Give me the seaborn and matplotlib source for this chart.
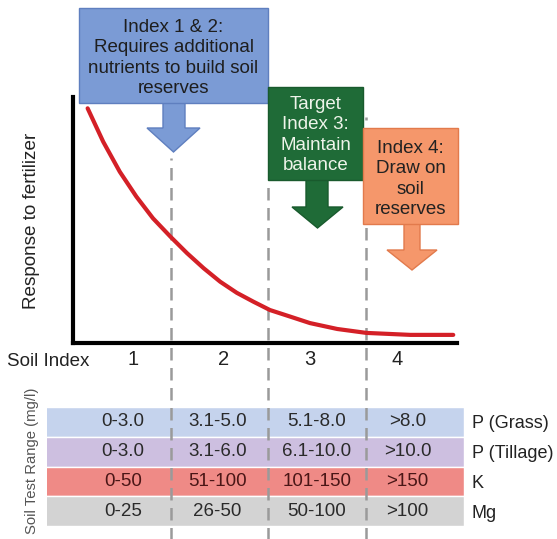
import pandas as pd
import matplotlib.pyplot as plt
import seaborn as sns
from matplotlib.patches import Rectangle, Polygon

sns.set_style('white')
plt.rcParams['font.family'] = ['Liberation Sans', 'DejaVu Sans']

# response curve (x in soil index units, y relative response)
curve_x = [0.65, 0.81, 0.98, 1.15, 1.32, 1.50, 1.67, 1.84, 2.01, 2.18, 2.35,
           2.52, 2.73, 2.93, 3.21, 3.51, 3.96, 4.40]
curve_y = [0.954, 0.818, 0.696, 0.595, 0.507, 0.432, 0.365, 0.304, 0.249, 0.204, 0.168,
           0.134, 0.107, 0.081, 0.057, 0.041, 0.033, 0.033]

index_labels = ['1', '2', '3', '4']
index_pos = [1.12, 2.04, 2.93, 3.82]
boundaries = [1.5, 2.5, 3.5]

nutrients = ['P (Grass)', 'P (Tillage)', 'K', 'Mg']
range_1 = ['0-3.0', '0-3.0', '0-50', '0-25']
range_2 = ['3.1-5.0', '3.1-6.0', '51-100', '26-50']
range_3 = ['5.1-8.0', '6.1-10.0', '101-150', '50-100']
range_4 = ['>8.0', '>10.0', '>150', '>100']
cell_pos = [1.01, 1.98, 3.00, 3.93]

row_colors = ['#c5d3ed', '#cdbfe0', '#ef8a86', '#d3d3d3']
row_text = ['#2a2a2a', '#2a2a2a', '#4a1616', '#2a2a2a']

W, H = 557, 539
X0, UNIT = 73, 97.5   # pixel of index 0.5 and pixels per index step


def rect(l, t, r, b):
    return [l / W, 1 - b / H, (r - l) / W, (b - t) / H]


def idx(px):
    return 0.5 + (px - X0) / UNIT


fig = plt.figure(figsize=(W / 100, H / 100), dpi=100)

# soil test table
tab = pd.DataFrame({'nutrient': nutrients, 'span': [idx(464)] * 4})
tab_ax = fig.add_axes(rect(47, 407, 464, 526), zorder=1)
sns.barplot(data=tab, x='span', y='nutrient', hue='nutrient', palette=row_colors,
            orient='h', width=1.0, saturation=1, legend=False, ax=tab_ax)
tab_ax.set_xlim(idx(47), idx(464))
tab_ax.set_ylim(3.5, -0.5)
tab_ax.set_xlabel('')
tab_ax.set_ylabel('')
tab_ax.set_xticks([])
tab_ax.yaxis.tick_right()
tab_ax.tick_params(axis='y', length=0, pad=5.5, labelsize=13, labelcolor='#222222')
for s in tab_ax.spines.values():
    s.set_visible(False)
for j, col in enumerate([range_1, range_2, range_3, range_4]):
    for i, txt in enumerate(col):
        tab_ax.text(cell_pos[j], i, txt, ha='center', va='center',
                    fontsize=13.5, color=row_text[i])

# response curve
ax = fig.add_axes(rect(73, 97, 457, 343), zorder=3)
ax.patch.set_alpha(0)
sns.lineplot(x=curve_x, y=curve_y, color='#d42027', linewidth=3, ax=ax, zorder=4)
ax.set_xlim(0.5, idx(457))
ax.set_ylim(0, 1)
ax.set_yticks([])
ax.set_xticks(index_pos, index_labels)
ax.tick_params(axis='x', length=0, pad=5, labelsize=14.5, labelcolor='#222222')
sns.despine(ax=ax)
for side in ['left', 'bottom']:
    ax.spines[side].set_linewidth(3)
    ax.spines[side].set_color('black')

ax.vlines(boundaries, -0.8, [0.75, 0.66, 0.92], transform=ax.get_xaxis_transform(),
          colors='#9a9a9a', linewidth=1.8, linestyles=(0, (5, 3)), clip_on=False, zorder=3)

# annotation boxes and labels, in pixel coordinates
cv = fig.add_axes([0, 0, 1, 1], zorder=5)
cv.set_xlim(0, W)
cv.set_ylim(H, 0)
cv.axis('off')


def callout(l, t, r, b, shaft, head, tip, fill, edge, text, tcolor, ty):
    sl, sr = shaft
    hl, hr, hy = head
    cx = (hl + hr) / 2
    cv.add_patch(Polygon([(sl, b), (sr, b), (sr, hy), (hr, hy), (cx, tip), (hl, hy), (sl, hy)],
                         closed=True, facecolor=fill, edgecolor=edge, linewidth=1))
    cv.add_patch(Rectangle((l, t), r - l, b - t, facecolor=fill, edgecolor=edge, linewidth=1))
    cv.text((l + r) / 2, ty, text, ha='center', va='center',
            fontsize=13.5, color=tcolor, linespacing=1.24)


callout(79, 8, 268, 103, (163, 185), (147, 200, 128), 152, '#7b9bd5', '#5f7fbf',
        'Index 1 & 2:\nRequires additional\nnutrients to build soil\nreserves', '#1e1e1e', 58)
callout(268, 87, 363, 180, (306, 328), (292, 343, 207), 228, '#1f6b37', '#195a2d',
        'Target\nIndex 3:\nMaintain\nbalance', '#eef4ea', 135)
callout(363, 128, 458, 224, (404, 420), (387, 437, 250), 270, '#f5976b', '#e27a4c',
        'Index 4:\nDraw on\nsoil\nreserves', '#222222', 179)

cv.text(7, 362, 'Soil Index', ha='left', va='center', fontsize=13.5, color='#222222')
cv.text(32, 221, 'Response to fertilizer', ha='center', va='center', rotation=90,
        fontsize=13.6, color='#222222')
cv.text(32, 461, 'Soil Test Range (mg/l)', ha='center', va='center', rotation=90,
        fontsize=10.7, color='#555555')

fig.savefig('out.png', dpi=100)
